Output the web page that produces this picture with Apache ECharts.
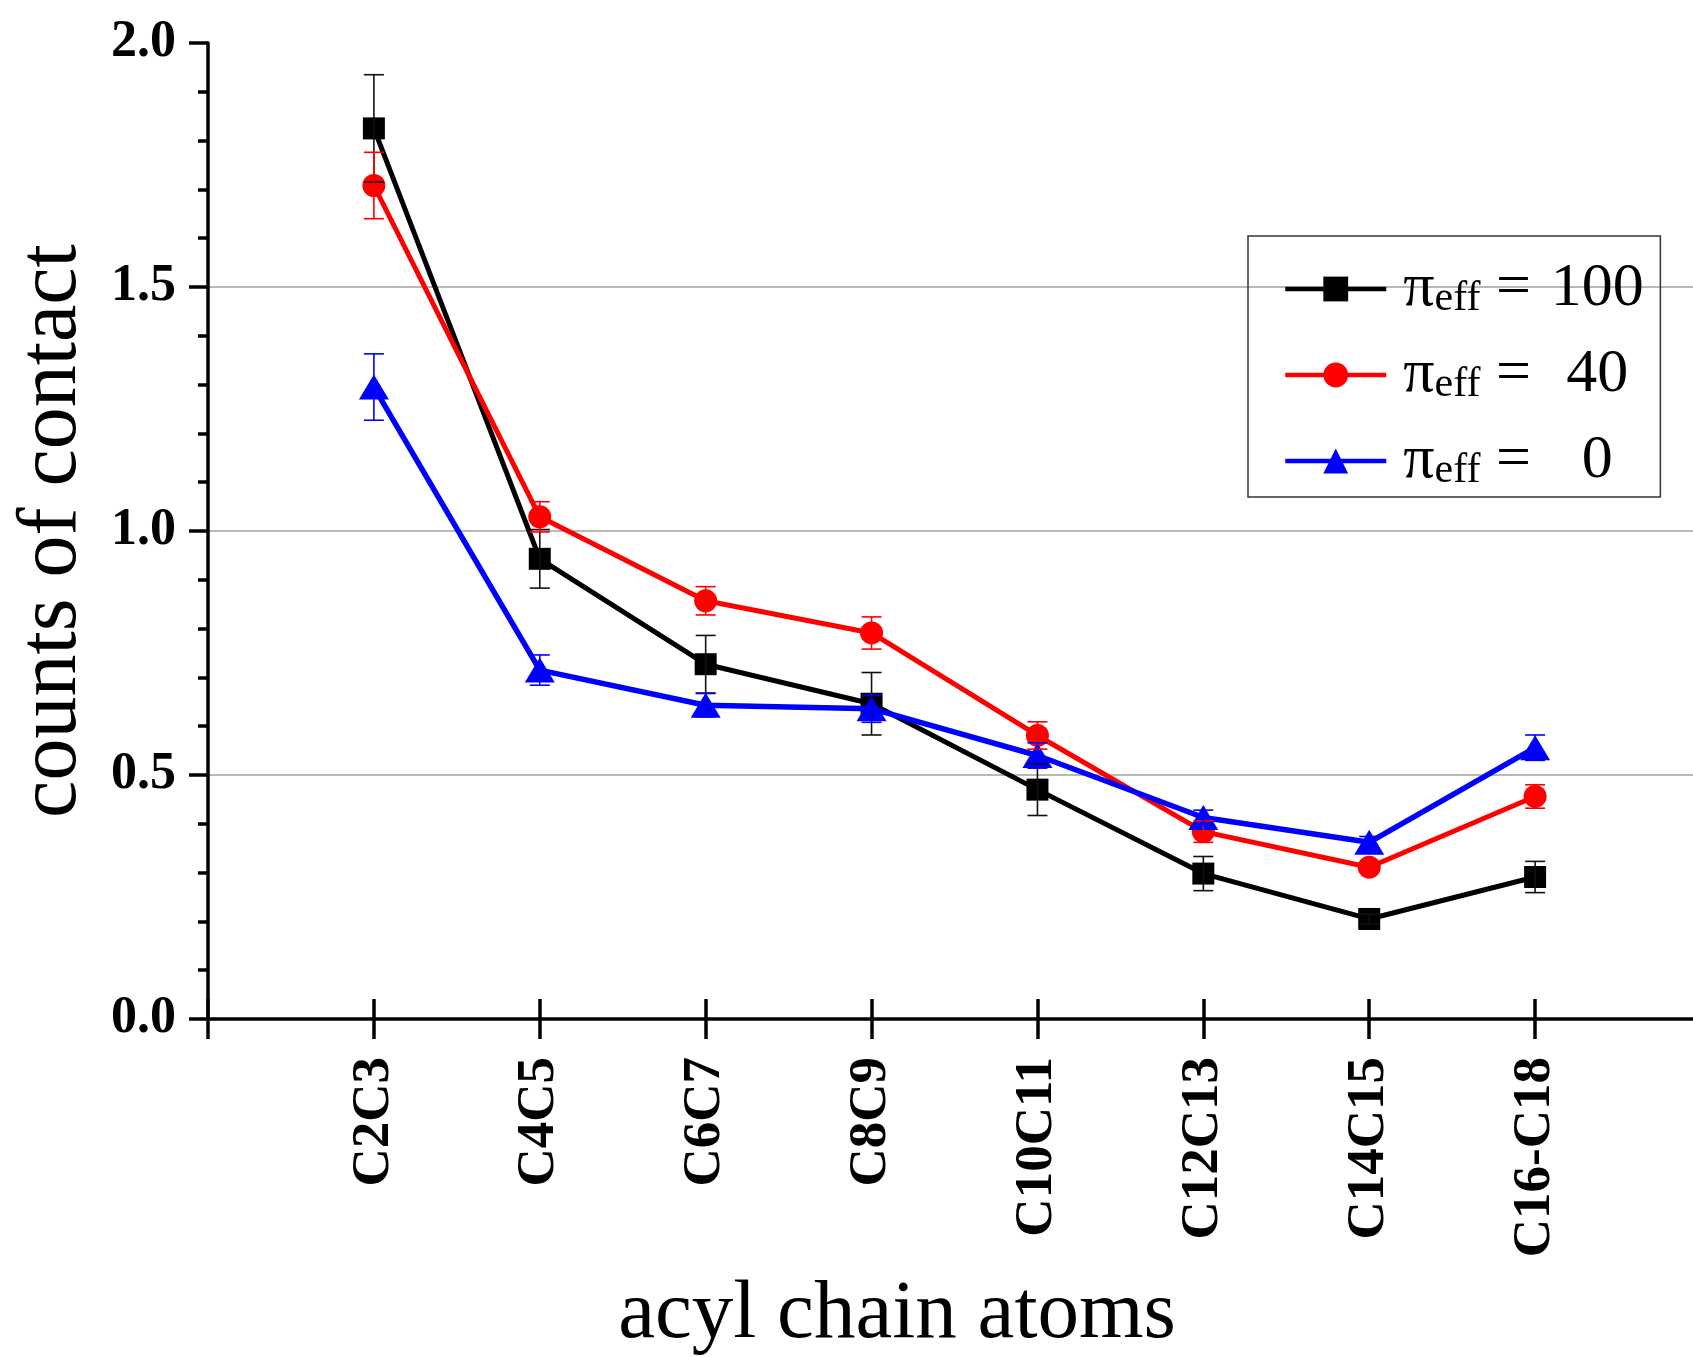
<!DOCTYPE html>
<html>
<head>
<meta charset="utf-8">
<title>counts of contact</title>
<script src="https://cdn.jsdelivr.net/npm/echarts@6/dist/echarts.min.js"></script>
<style>
  html, body { margin: 0; padding: 0; background: #fff; }
  #main { width: 1693px; height: 1357px; }
</style>
</head>
<body>
<div id="main"></div>
<script>
var categories = ['C2C3', 'C4C5', 'C6C7', 'C8C9', 'C10C11', 'C12C13', 'C14C15', 'C16-C18']
var yTicks = [0, 0.5, 1.0, 1.5, 2.0]

var pi100 = [1.825, 0.943, 0.727, 0.646, 0.470, 0.298, 0.205, 0.291]
var pi100Err = [0.110, 0.060, 0.059, 0.064, 0.053, 0.035, 0.010, 0.032]
var pi40 = [1.708, 1.029, 0.857, 0.791, 0.581, 0.384, 0.311, 0.456]
var pi40Err = [0.068, 0.031, 0.029, 0.033, 0.028, 0.022, 0.010, 0.024]
var pi0 = [1.295, 0.715, 0.643, 0.636, 0.540, 0.413, 0.362, 0.556]
var pi0Err = [0.068, 0.031, 0.024, 0.028, 0.026, 0.015, 0.012, 0.026]

var names = ['πeff = 100', 'πeff = 40', 'πeff = 0']
var colors = ['#000000', '#ff0000', '#0000ff']

var serif = "'Liberation Serif', 'Times New Roman', serif"
var gridLeft = 208
var gridRight = -8 // x = 9 sits just past the right edge
var gridTop = 43
var gridH = 976
var gridW = 1693 - gridLeft - gridRight

function points(arr) {
  return arr.map(function (v, i) { return [i + 1, v] })
}
function errRows(arr, err) {
  return arr.map(function (v, i) { return [i + 1, v - err[i], v + err[i]] })
}

// vertical bar + two caps
function errorBars(name, arr, err, color) {
  return {
    name: name + ' err',
    type: 'custom',
    z: 5,
    silent: true,
    data: errRows(arr, err),
    renderItem: function (params, api) {
      var lo = api.coord([api.value(0), api.value(1)])
      var hi = api.coord([api.value(0), api.value(2)])
      var cap = 10
      var style = { stroke: color, lineWidth: 1.6 }
      return {
        type: 'group',
        children: [
          { type: 'line', shape: { x1: lo[0], y1: lo[1], x2: hi[0], y2: hi[1] }, style: style },
          { type: 'line', shape: { x1: lo[0] - cap, y1: lo[1], x2: lo[0] + cap, y2: lo[1] }, style: style },
          { type: 'line', shape: { x1: hi[0] - cap, y1: hi[1], x2: hi[0] + cap, y2: hi[1] }, style: style },
        ],
      }
    },
  }
}

var chart = echarts.init(document.getElementById('main'))

var option = {
  animation: false,
  backgroundColor: '#fff',
  grid: { left: gridLeft, top: gridTop, right: gridRight, height: gridH, outerBoundsMode: 'none' },
  legend: {
    data: names,
    orient: 'vertical',
    left: 1248,
    top: 236,
    padding: [22, 12, 5, 35],
    itemGap: 24,
    itemWidth: 101,
    itemHeight: 31,
    borderColor: '#333',
    borderWidth: 1.5,
    selectedMode: false,
    lineStyle: { width: 4.5 },
    formatter: function (name) {
      var num = name.split('= ')[1]
      return '{pi|π}{sub|eff}{eq| = }{num|' + num + '}'
    },
    textStyle: {
      color: '#000',
      fontFamily: serif,
      rich: {
        pi: { fontSize: 62, fontFamily: serif, lineHeight: 62, verticalAlign: 'bottom', padding: [0, 0, 0, 12] },
        sub: { fontSize: 42, fontFamily: serif, lineHeight: 50, verticalAlign: 'bottom' },
        eq: { fontSize: 62, fontFamily: serif, lineHeight: 62, verticalAlign: 'bottom' },
        num: { fontSize: 62, fontFamily: serif, lineHeight: 62, verticalAlign: 'bottom', width: 102, align: 'center' },
      },
    },
  },
  xAxis: [
    {
      type: 'value',
      min: 0,
      max: 9,
      interval: 1,
      position: 'bottom',
      axisLine: { onZero: false, lineStyle: { color: '#000', width: 3.5 } },
      axisTick: { length: 20, lineStyle: { color: '#000', width: 3.5 } },
      axisLabel: {
        rotate: 90,
        margin: 38,
        color: '#000',
        fontSize: 53,
        fontWeight: 'bold',
        fontFamily: serif,
        formatter: function (v) { return categories[v - 1] || '' },
      },
      splitLine: { show: false },
    },
    {
      // inner half of the crossing ticks
      type: 'value',
      min: 0,
      max: 9,
      interval: 1,
      position: 'top',
      offset: -gridH,
      axisLine: { show: false },
      axisTick: { length: 20, lineStyle: { color: '#000', width: 3.5 } },
      axisLabel: { show: false },
      splitLine: { show: false },
    },
  ],
  yAxis: [
    {
      type: 'value',
      min: yTicks[0],
      max: yTicks[yTicks.length - 1],
      interval: 0.5,
      position: 'left',
      axisLine: { onZero: false, lineStyle: { color: '#000', width: 3.5 } },
      axisTick: { length: 19, lineStyle: { color: '#000', width: 3.5 } },
      minorTick: { show: true, splitNumber: 5, length: 10, lineStyle: { color: '#000', width: 3.5 } },
      axisLabel: {
        margin: 32,
        color: '#000',
        fontSize: 52,
        fontWeight: 'bold',
        fontFamily: serif,
        formatter: function (v) { return v.toFixed(1) },
      },
      splitLine: {
        show: true,
        showMinLine: false,
        showMaxLine: false,
        lineStyle: { color: '#a0a0a0', width: 1.5 },
      },
    },
    {
      type: 'value',
      min: 0,
      max: 2,
      interval: 0.5,
      position: 'right',
      offset: -gridW,
      axisLine: { show: false },
      axisTick: { length: 21, lineStyle: { color: '#000', width: 3.5 } },
      minorTick: { show: true, splitNumber: 5, length: 11, lineStyle: { color: '#000', width: 3.5 } },
      axisLabel: { show: false },
      splitLine: { show: false },
    },
  ],
  graphic: [
    {
      type: 'text',
      x: 53,
      y: 531,
      rotation: Math.PI / 2,
      style: {
        text: 'counts of contact',
        font: '84px ' + serif,
        fill: '#000',
        textAlign: 'center',
        textVerticalAlign: 'middle',
      },
    },
    {
      type: 'text',
      x: 897,
      y: 1315,
      style: {
        text: 'acyl chain atoms',
        font: '83px ' + serif,
        fill: '#000',
        textAlign: 'center',
        textVerticalAlign: 'middle',
      },
    },
  ],
  series: [
    {
      name: names[0],
      type: 'line',
      data: points(pi100),
      symbol: 'rect',
      symbolSize: 22,
      color: colors[0],
      lineStyle: { color: colors[0], width: 5 },
      itemStyle: { color: colors[0] },
      z: 2,
    },
    {
      name: names[1],
      type: 'line',
      data: points(pi40),
      symbol: 'circle',
      symbolSize: 23,
      color: colors[1],
      lineStyle: { color: colors[1], width: 5 },
      itemStyle: { color: colors[1] },
      z: 3,
    },
    {
      name: names[2],
      type: 'line',
      data: points(pi0),
      symbol: 'triangle',
      symbolSize: [30, 25],
      color: colors[2],
      lineStyle: { color: colors[2], width: 5.5 },
      itemStyle: { color: colors[2] },
      z: 4,
    },
    errorBars(names[0], pi100, pi100Err, '#111'),
    errorBars(names[1], pi40, pi40Err, colors[1]),
    errorBars(names[2], pi0, pi0Err, colors[2]),
  ],
}

option && chart.setOption(option)
</script>
</body>
</html>
